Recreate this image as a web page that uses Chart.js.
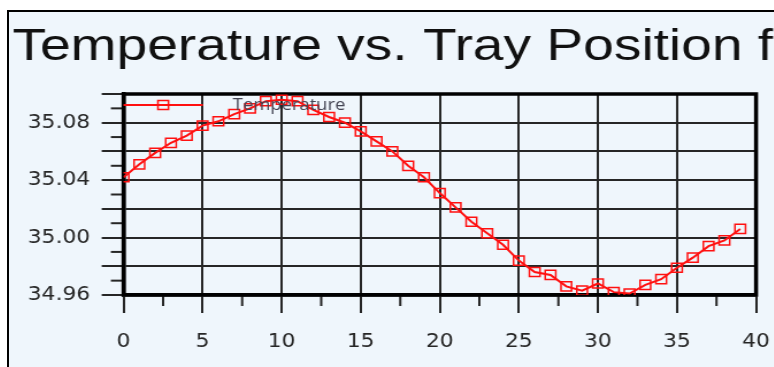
<!DOCTYPE html>
<html><head><meta charset="utf-8">
<script src="https://cdn.jsdelivr.net/npm/chart.js@4/dist/chart.umd.min.js"></script>
<style>
html,body{margin:0;padding:0;background:#fff;overflow:hidden;width:774px;height:367px;}
#frame{position:absolute;left:7px;top:10px;width:900px;height:500px;border-left:2px solid #000;border-top:2px solid #000;background:#eff6fc;overflow:hidden;}
#wrap{position:absolute;left:0;top:0;width:700px;height:360px;transform:scaleX(1.15);transform-origin:0 0;}
canvas{display:block;}
</style></head><body>
<div id="frame"><div id="wrap"><canvas id="c" width="700" height="360"></canvas></div></div>
<script>
const chartTitle = 'Temperature vs. Tray Position for';
const seriesName = 'Temperature';
const trayPositions = [0,1,2,3,4,5,6,7,8,9,10,11,12,13,14,15,16,17,18,19,20,21,22,23,24,25,26,27,28,29,30,31,32,33,34,35,36,37,38,39];
const temperatures = [35.042,35.051,35.059,35.066,35.071,35.078,35.081,35.086,35.090,35.095,35.096,35.095,35.089,35.084,35.080,35.074,35.067,35.060,35.050,35.042,
  35.031,35.021,35.011,35.003,34.995,34.984,34.976,34.974,34.966,34.963,34.968,34.962,34.961,34.967,34.971,34.979,34.986,34.994,34.998,35.006];
const xTickLabels = ['0','5','10','15','20','25','30','35','40'];
const xGridValues = [0,5,10,15,20,25,30,35,40];
const xMinorValues = [2.5,7.5,12.5,17.5,22.5,27.5,32.5,37.5];
const yTickLabels = ['34.96','35.00','35.04','35.08'];
const yGridValues = [34.96,34.98,35.00,35.02,35.04,35.06,35.08,35.10];
const yMinorValues = [34.97,34.99,35.01,35.03,35.05,35.07,35.09];

const RED = '#ff1010';
const GRID = '#262626';
const TICKFONT = {family:'"DejaVu Sans"', size:19};

const decor = {
  id:'decor',
  beforeDraw(chart){
    const ctx = chart.ctx;
    ctx.save();
    ctx.translate(3, 48);
    ctx.scale(1.065, 1);
    ctx.font = '45px "Liberation Sans", Arial, sans-serif';
    ctx.fillStyle = '#111';
    ctx.textBaseline = 'alphabetic';
    ctx.textAlign = 'left';
    ctx.fillText(chartTitle, 0, 0);
    ctx.restore();
  },
  beforeDatasetsDraw(chart){
    const {ctx, chartArea:a, scales:{x, y}} = chart;
    ctx.save();
    ctx.strokeStyle = GRID; ctx.lineWidth = 2;
    yMinorValues.forEach(v => {
      const py = y.getPixelForValue(v);
      ctx.beginPath(); ctx.moveTo(a.left - 11, py); ctx.lineTo(a.left, py); ctx.stroke();
    });
    xMinorValues.forEach(v => {
      const px = x.getPixelForValue(v);
      ctx.beginPath(); ctx.moveTo(px, a.bottom); ctx.lineTo(px, a.bottom + 11); ctx.stroke();
    });
    ctx.strokeStyle = '#000'; ctx.lineWidth = 3.5;
    ctx.strokeRect(a.left, a.top, a.right - a.left, a.bottom - a.top);
    ctx.restore();
  },
  afterDatasetsDraw(chart){
    const {ctx, chartArea:a} = chart;
    const ds = chart.data.datasets[0];
    const ly = a.top + 11;
    const x0 = a.left, x1 = a.left + 69;
    ctx.save();
    ctx.strokeStyle = ds.borderColor; ctx.lineWidth = 2;
    ctx.beginPath(); ctx.moveTo(x0, ly); ctx.lineTo(x1, ly); ctx.stroke();
    ctx.fillStyle = 'rgba(0,0,0,0)';
    ctx.strokeStyle = ds.pointBorderColor;
    ctx.lineWidth = ds.pointBorderWidth;
    Chart.helpers.drawPoint(ctx, {pointStyle:'rect', radius:ds.pointRadius, borderWidth:ds.pointBorderWidth}, (x0 + x1) / 2, ly);
    ctx.fillStyle = '#434453';
    ctx.font = '16px "Open Sans", sans-serif';
    ctx.textBaseline = 'middle';
    ctx.fillText(ds.label, a.left + 95, ly);
    ctx.restore();
  }
};

new Chart(document.getElementById('c'), {
  type:'line',
  data:{
    labels: trayPositions,
    datasets:[{
      label: seriesName,
      data: trayPositions.map((p, i) => ({x:p, y:temperatures[i]})),
      borderColor: RED,
      borderWidth: 2,
      pointStyle: 'rect',
      pointRadius: 6.5,
      pointBorderWidth: 1.5,
      pointBorderColor: RED,
      pointBackgroundColor: 'rgba(0,0,0,0)',
      tension: 0,
      fill: false
    }]
  },
  options:{
    responsive:false,
    animation:false,
    devicePixelRatio:1,
    layout:{padding:{top:82, left:0, right:50.4, bottom:0}},
    plugins:{legend:{display:false}, title:{display:false}, tooltip:{enabled:false}},
    scales:{
      x:{
        type:'linear', min:0, max:40,
        afterFit(s){ s.height = 77; },
        afterBuildTicks(s){ s.ticks = xGridValues.map(v => ({value:v})); },
        grid:{color:GRID, lineWidth:2, tickLength:18, tickColor:GRID},
        border:{color:'#000', width:3.5},
        ticks:{color:'#262626', font:TICKFONT, padding:18, maxRotation:0,
          callback:(v) => { const i = xGridValues.indexOf(v); return i >= 0 ? xTickLabels[i] : ''; }}
      },
      y:{
        type:'linear', min:34.96, max:35.10,
        afterFit(s){ s.width = 99.6; },
        afterBuildTicks(s){ s.ticks = yGridValues.map(v => ({value:v})); },
        grid:{color:GRID, lineWidth:2, tickLength:19, tickColor:GRID},
        border:{color:'#000', width:3.5},
        ticks:{color:'#262626', font:TICKFONT, padding:10,
          callback:(v) => { const l = yTickLabels.find(t => Math.abs(parseFloat(t) - v) < 1e-6); return l || ''; }}
      }
    }
  },
  plugins:[decor]
});
</script>
</body></html>
